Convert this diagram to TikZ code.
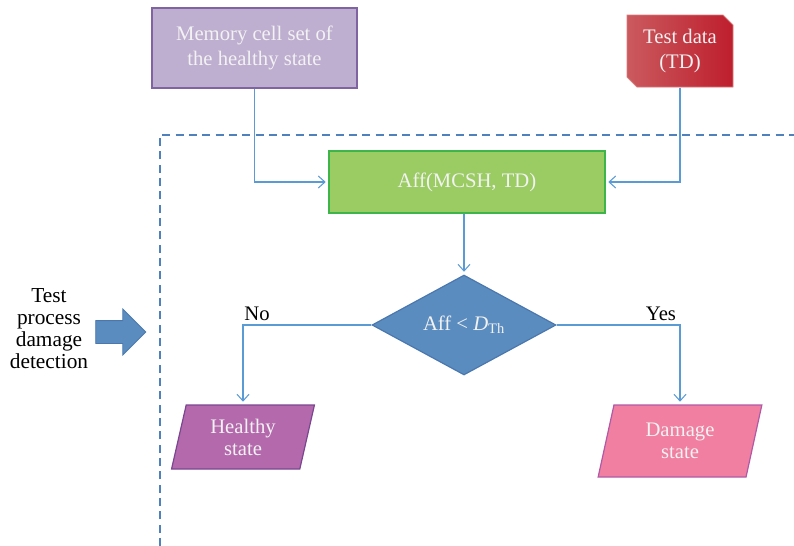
\documentclass[tikz,border=0pt]{standalone}
\usepackage{fontspec}
\setmainfont{Liberation Serif}
\usepackage{tikz}
\usepackage{xcolor}
\usetikzlibrary{arrows.meta, shapes.geometric, shapes.arrows, calc, positioning}

\definecolor{memfill}{HTML}{BEAED0}
\definecolor{memline}{HTML}{8064A2}
\definecolor{tdleft}{HTML}{CA5A5E}
\definecolor{tdright}{HTML}{BE1E2D}
\definecolor{affill}{HTML}{9BCB63}
\definecolor{afline}{HTML}{3DB54A}
\definecolor{decfill}{HTML}{5B8CC0}
\definecolor{decline}{HTML}{4A78AE}
\definecolor{hfill}{HTML}{B469AC}
\definecolor{hline}{HTML}{7A4690}
\definecolor{dfill}{HTML}{F07FA1}
\definecolor{dline}{HTML}{B05AA6}
\definecolor{linkcol}{HTML}{5B9BD5}
\definecolor{dashcol}{HTML}{4F81BD}

\tikzset{
    box/.style={draw, line width=0.9pt, text=white!95!black, align=center, inner sep=0pt,
        font=\fontsize{15.5}{19}\selectfont},
    slanted/.style={box, trapezium, trapezium left angle=77, trapezium right angle=103,
        trapezium stretches=true, font=\fontsize{15.5}{16.5}\selectfont},
    link/.style={draw=linkcol, line width=0.8pt, -{Straight Barb[length=5pt, width=9pt]}, shorten >=2pt}
}

\begin{document}
\begin{tikzpicture}[x=0.75pt, y=-0.75pt]
                        \useasboundingbox (0,0) rectangle (794,546);
                        \node[box, fill=memfill, draw=memline, minimum width=153.75pt, minimum height=60pt] (mem) at (254.5, 48) {Memory cell set of\\the healthy state};
                        \coordinate (tdc) at (680, 51);
                        \path[left color=tdleft, right color=tdright, draw=tdleft!80!white, line width=0.6pt]
                        ($(tdc)+(-53,-36)$) -- ($(tdc)+(43,-36)$) -- ($(tdc)+(53,-26)$)
                        -- ($(tdc)+(53,36)$) -- ($(tdc)+(-43,36)$) -- ($(tdc)+(-53,26)$) -- cycle;
                        \node[box, draw=none, minimum width=79.5pt, minimum height=54pt] (td) at (tdc) {Test data\\(TD)};
                        \node[box, fill=affill, draw=afline, minimum width=207pt, minimum height=46.5pt] (aff) at (467, 182) {Aff(MCSH, TD)};
                        \node[box, diamond, fill=decfill, draw=decline, minimum width=138pt, minimum height=70.5pt] (dec) at (464, 325) {Aff < \textit{D}\textsubscript{Th}};
                        \node[slanted, fill=hfill, draw=hline, minimum width=107.25pt, minimum height=48pt] (healthy) at (243, 437) {Healthy\\state};
                        \node[slanted, fill=dfill, draw=dline, minimum width=123pt, minimum height=54pt] (damage) at (680, 441) {Damage\\state};
                        \node[align=center, font=\fontsize{16}{16.5}\selectfont] (phase) at (49, 329) {Test\\process\\damage\\detection};
                        \node[single arrow, fill=decfill, draw=decline, line width=0.6pt, minimum height=37.5pt, inner xsep=0pt, inner ysep=8.25pt, single arrow head extend=8.6pt] (go) at (115, 332) {};
                        \node[] (no) at (257, 314) {\fontsize{15.5}{18}\selectfont No};
                        \node[] (yes) at (661, 314) {\fontsize{15.5}{18}\selectfont Yes};
                        \draw[dashcol, line width=0.8pt, dash pattern=on 6pt off 4pt]
                        (160,546) -- (160,135) -- (794,135);
                        \draw[link] (mem.south) |- (aff.west);
                        \draw[link] (td.south) |- (aff.east);
                        \draw[link] (aff.south -| dec.north) -- (dec.north);
                        \draw[link] (dec.west) -| (healthy.north);
                        \draw[link] (dec.east) -| (damage.north);
                    \end{tikzpicture}
\end{document}
